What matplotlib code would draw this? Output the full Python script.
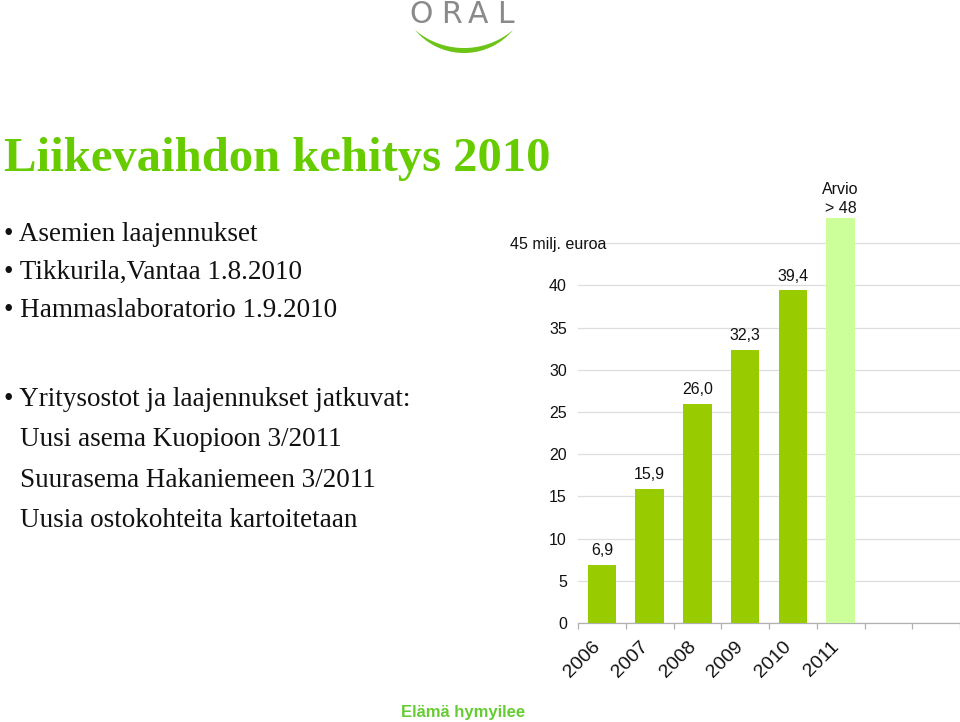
import numpy as np
import matplotlib
matplotlib.use("Agg")
import matplotlib.pyplot as plt
from matplotlib.patches import Polygon
from matplotlib.transforms import ScaledTranslation

# ---- data ----
years = ["2006", "2007", "2008", "2009", "2010", "2011"]
revenue = [6.9, 15.9, 26.0, 32.3, 39.4, 48.0]
value_labels = ["6,9", "15,9", "26,0", "32,3", "39,4", "Arvio\n> 48"]
is_estimate = [False, False, False, False, False, True]
y_ticks = [0, 5, 10, 15, 20, 25, 30, 35, 40]
y_unit_label = "45 milj. euroa"

title = "Liikevaihdon kehitys 2010"
bullets_top = ["• Asemien laajennukset",
               "• Tikkurila,Vantaa 1.8.2010",
               "• Hammaslaboratorio 1.9.2010"]
bullet_main = "• Yritysostot ja laajennukset jatkuvat:"
sub_lines = ["Uusi asema Kuopioon 3/2011",
             "Suurasema Hakaniemeen 3/2011",
             "Uusia ostokohteita kartoitetaan"]
footer = "Elämä hymyilee"
logo_letters = ["O", "R", "A", "L"]

# ---- styles ----
W, H = 960, 722
BAR = "#99cc00"
BAR_EST = "#ccff99"
TITLE_GREEN = "#66cc00"
GRID = "#dedede"
SANS = "Liberation Sans"
SERIF = "Liberation Serif"

fig = plt.figure(figsize=(W / 100, H / 100), dpi=100)
fig.patch.set_facecolor("white")

# chart axes (pixel geometry)
x0, x1 = 578, 960
y_zero = 623
px_per_unit = 8.44
y_top_val = 50
ax = fig.add_axes([x0 / W, 1 - y_zero / H, (x1 - x0) / W, y_top_val * px_per_unit / H])
ax.set_xlim(-0.5, 7.5)
ax.set_ylim(0, y_top_val)

xpos = np.arange(len(years))
colors = [BAR_EST if e else BAR for e in is_estimate]
bars = ax.bar(xpos, revenue, width=0.6, color=colors, zorder=3, clip_on=False)

for b, lab, est in zip(bars, value_labels, is_estimate):
    ax.annotate(lab, (b.get_x() + b.get_width() / 2, b.get_height()),
                xytext=(0, 1.5 if est else 5), textcoords="offset points",
                ha="center", va="bottom", fontsize=11.5, family=SANS,
                color="#111111", linespacing=1.3, zorder=4)

# grid lines
for v in y_ticks + [45]:
    ax.axhline(v, color=GRID, lw=0.9, zorder=1)

for s in ["top", "right", "left"]:
    ax.spines[s].set_visible(False)
ax.spines["bottom"].set_color("#b0b0b0")
ax.spines["bottom"].set_linewidth(0.9)

ax.set_yticks(y_ticks)
ax.set_yticklabels([str(v) for v in y_ticks], fontsize=11.5, family=SANS, color="#111111")
ax.tick_params(axis="y", length=0, pad=8)

ax.set_xticks(xpos)
ax.set_xticklabels(years, fontsize=14, family=SANS, color="#111111",
                   rotation=45, ha="right", va="center", rotation_mode="anchor")
ax.tick_params(axis="x", which="major", length=0, pad=15)
shift = ScaledTranslation(-3 / 72, 0, fig.dpi_scale_trans)
for lbl in ax.get_xticklabels():
    lbl.set_transform(lbl.get_transform() + shift)
ax.set_xticks(np.arange(-0.5, 8.0, 1.0), minor=True)
ax.tick_params(axis="x", which="minor", length=4, color="#b0b0b0", width=0.9)

# overlay axes in pixel coordinates for slide text
ov = fig.add_axes([0, 0, 1, 1], facecolor="none")
ov.set_xlim(0, W)
ov.set_ylim(H, 0)
ov.axis("off")

ov.text(510, 244, y_unit_label, fontsize=11.5, family=SANS, color="#111111",
        ha="left", va="center")

ov.text(4, 171, title, fontsize=35, family=SERIF, weight="bold",
        color=TITLE_GREEN, ha="left", va="baseline")

for i, line in enumerate(bullets_top):
    ov.text(4, [241, 279, 317][i], line, fontsize=19.5, family=SERIF,
            color="#111111", ha="left", va="baseline")
ov.text(4, 406, bullet_main, fontsize=19.5, family=SERIF,
        color="#111111", ha="left", va="baseline")
for i, line in enumerate(sub_lines):
    ov.text(20, [446, 487, 527][i], line, fontsize=19.5, family=SERIF,
            color="#111111", ha="left", va="baseline")

# logo
for ch, cx in zip(logo_letters, [421.5, 451.5, 478.5, 505]):
    ov.text(cx, 23, ch, fontsize=21.5, family="DejaVu Sans", color="#8a8a8a",
            ha="center", va="baseline")
cxl = 464
R1, cy1 = 63.7, -10.7
R2, cy2 = 75.7, -27.7
t1 = np.arcsin(49 / R1)
t2 = np.arcsin(49 / R2)
ta = np.linspace(-t1, t1, 60)
tb = np.linspace(t2, -t2, 60)
pts = np.vstack([np.column_stack([cxl + R1 * np.sin(ta), cy1 + R1 * np.cos(ta)]),
                 np.column_stack([cxl + R2 * np.sin(tb), cy2 + R2 * np.cos(tb)])])
ov.add_patch(Polygon(pts, closed=True, facecolor="#6cc417", edgecolor="none"))

ov.text(463, 717, footer, fontsize=12, family=SANS, weight="bold",
        color="#66cc33", ha="center", va="baseline")

fig.savefig("out.png", dpi=100, facecolor="white")
